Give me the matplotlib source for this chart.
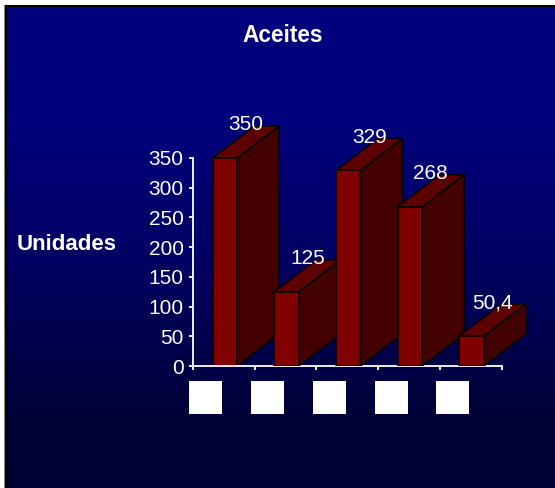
import numpy as np
import matplotlib
matplotlib.use('Agg')
import matplotlib.pyplot as plt
from matplotlib.patches import Polygon, Rectangle

plt.rcParams['font.family'] = ['Liberation Sans', 'DejaVu Sans']

# datos
categorias = ['', '', '', '', '']
valores = [350, 125, 329, 268, 50.4]
yticks = [0, 50, 100, 150, 200, 250, 300, 350]
titulo = 'Aceites'
ylabel = 'Unidades'

W, H = 555, 488
fig = plt.figure(figsize=(W / 100, H / 100), dpi=100)
fig.patch.set_facecolor('white')

# fondo con degradado azul
bg = fig.add_axes([0, 0, 1, 1], zorder=0)
bg.set_xlim(0, W)
bg.set_ylim(H, 0)
bg.axis('off')
yy = np.linspace(0, 1, 400)
azul = np.interp(yy, [0, 0.25, 0.55, 0.85, 1.0], [128, 124, 96, 56, 50]) / 255.0
grad = np.zeros((400, 1, 3))
grad[:, 0, 2] = azul
bg.imshow(grad, extent=(5, W, H, 5), aspect='auto', interpolation='bilinear')
bg.plot([5.5, W], [5.5, 5.5], color='black', lw=1.5)
bg.plot([5.5, 5.5], [5.5, H], color='black', lw=1.5)
bg.plot([4.3, 4.3], [5, H], color='#888888', lw=0.8)

# titulo y etiqueta
fig.text(283 / W, 1 - 35 / H, titulo, color='white', fontsize=16.3,
         fontweight='bold', ha='center', va='center')
fig.text(17 / W, 1 - 245 / H, ylabel, color='white', fontsize=16,
         fontweight='bold', ha='left', va='center')

# ejes principales (pixeles -> datos)
px_x = 61.7   # px por categoria
px_y = 0.5943  # px por unidad
left, right_px, base, top_px = 193, 548, 366, 95
ax = fig.add_axes([left / W, (H - base) / H, (right_px - left) / W, (base - top_px) / H],
                  zorder=1)
ax.patch.set_alpha(0)
ax.set_xlim(-0.5, -0.5 + (right_px - left) / px_x)
ax.set_ylim(0, (base - top_px) / px_y)

for s in ['top', 'right']:
    ax.spines[s].set_visible(False)
ax.spines['left'].set_color('white')
ax.spines['bottom'].set_color('white')
ax.spines['left'].set_linewidth(1.3)
ax.spines['bottom'].set_linewidth(1.3)
ax.spines['left'].set_bounds(0, 350)
ax.spines['bottom'].set_bounds(-0.5, len(valores) - 0.5)

ax.set_yticks(yticks)
ax.set_xticks(np.arange(len(valores) + 1) - 0.5)
ax.set_xticklabels([''] * (len(valores) + 1))
ax.tick_params(axis='both', colors='white', direction='out', length=3.2, width=1.3,
               labelsize=15, labelcolor='white', pad=3.5)

# barras 3D
dx = 42 / px_x
dy = 32 / px_y
ancho = 24.5 / px_x
for i, v in enumerate(valores):
    x0 = i - 0.5 + 19.5 / px_x
    x1 = x0 + ancho
    z = 2 + i
    lado = Polygon([(x1, 0), (x1 + dx, dy), (x1 + dx, v + dy), (x1, v)],
                   facecolor='#420000', edgecolor='black', lw=1.1, zorder=z)
    tapa = Polygon([(x0, v), (x1, v), (x1 + dx, v + dy), (x0 + dx, v + dy)],
                   facecolor='#5e0000', edgecolor='black', lw=1.1, zorder=z)
    frente = Rectangle((x0, 0), ancho, v, facecolor='#800000', edgecolor='black',
                       lw=1.1, zorder=z)
    for p in (lado, tapa, frente):
        ax.add_patch(p)
    ax.text(x0 + ancho / 2 + 21 / px_x, v + 33 / px_y, f'{v:g}'.replace('.', ','),
            color='white', fontsize=15, ha='center', va='center', zorder=20)

# etiquetas de categoria (cuadros blancos)
for i, c in enumerate(categorias):
    ax.add_patch(Rectangle((i - 0.29 - 16.5 / px_x, -414 / px_y + base / px_y), 33 / px_x,
                           33 / px_y, facecolor='white', edgecolor='none', clip_on=False))

plt.savefig('out.png', dpi=100, facecolor=fig.get_facecolor())
